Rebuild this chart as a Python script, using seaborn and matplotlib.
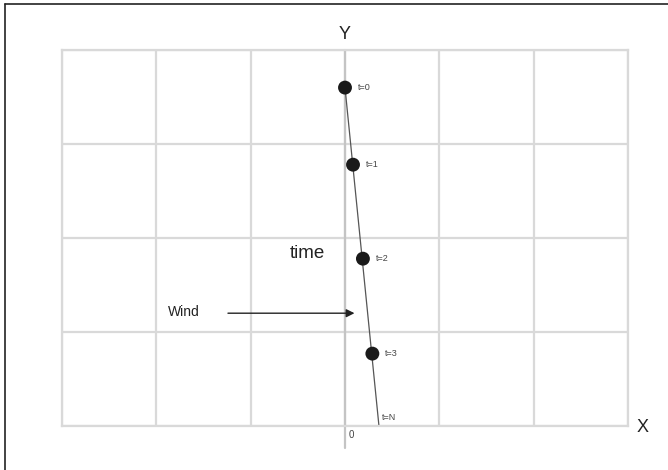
import matplotlib
matplotlib.use("Agg")
import matplotlib.pyplot as plt
import numpy as np
import pandas as pd
import seaborn as sns
from matplotlib.lines import Line2D

# --------------------------- data ----------------- #
labels = ['t=0', 't=1', 't=2', 't=3']
pos_x = [0.0, 0.085, 0.19, 0.29]
pos_y = [3.6, 2.78, 1.78, 0.77]
end_x = 0.36
end_y = 0.0
x_ticks = [-3, -2, -1, 0, 1, 2, 3]
y_ticks = [0, 1, 2, 3, 4]

df = pd.DataFrame({'x': pos_x, 'y': pos_y, 'label': labels})
path = pd.DataFrame({'x': [pos_x[0], end_x], 'y': [pos_y[0], end_y]})

sns.set_style('white')
plt.rcParams['font.family'] = ['Liberation Sans', 'DejaVu Sans']
fig = plt.figure(figsize=(6.68, 4.70), dpi=100)
ax = fig.add_axes([62/668, 44/470, 566/668, 376/470])

grid_c = '#d9d9d9'
ax.set_xlim(-3, 3)
ax.set_ylim(0, 4)
ax.set_xticks(x_ticks)
ax.set_yticks(y_ticks)
ax.tick_params(length=0, labelbottom=False, labelleft=False)
ax.grid(True, color=grid_c, lw=1.6)
for s in ax.spines.values():
    s.set_color(grid_c)
    s.set_linewidth(1.6)

# y axis (slightly darker, hangs below the x axis)
ax.plot([0, 0], [-0.23, 4], color='#c4c4c4', lw=1.6, clip_on=False, zorder=1)

# trajectory
sns.lineplot(data=path, x='x', y='y', color='#555555', lw=0.9, ax=ax, sort=False, zorder=2)
sns.scatterplot(data=df, x='x', y='y', color='#1a1a1a', s=100, edgecolor='none', ax=ax, zorder=3)
ax.set_xlabel('')
ax.set_ylabel('')

for _, r in df.iterrows():
    ax.annotate(r['label'], (r['x'], r['y']), xytext=(9, 0), textcoords='offset points',
                fontsize=6.5, color='#444444', va='center')
ax.annotate('t=N', (end_x, end_y), xytext=(2, 6), textcoords='offset points',
            fontsize=6.5, color='#444444', va='center')
ax.text(0.04, -0.1, '0', fontsize=7, color='#444444', ha='left', va='center')

ax.text(-0.40, 1.84, 'time', fontsize=13.5, color='#222222', ha='center', va='center')
ax.text(-1.71, 1.21, 'Wind', fontsize=10, color='#222222', ha='center', va='center')
ax.annotate('', xy=(0.13, 1.20), xytext=(-1.27, 1.20),
            arrowprops=dict(arrowstyle='-|>', color='#222222', lw=1.0, mutation_scale=12))

ax.text(0, 4.16, 'Y', fontsize=13, color='#222222', ha='center', va='center', clip_on=False)
ax.text(3.16, -0.02, 'X', fontsize=13, color='#222222', ha='center', va='center', clip_on=False)

# frame edges of the original image
fig.add_artist(Line2D([5/668, 5/668], [0, 1 - 4/470], color='#222222', lw=1.2))
fig.add_artist(Line2D([5/668, 1], [1 - 4/470, 1 - 4/470], color='#222222', lw=1.2))

fig.savefig('out.png', dpi=100)
